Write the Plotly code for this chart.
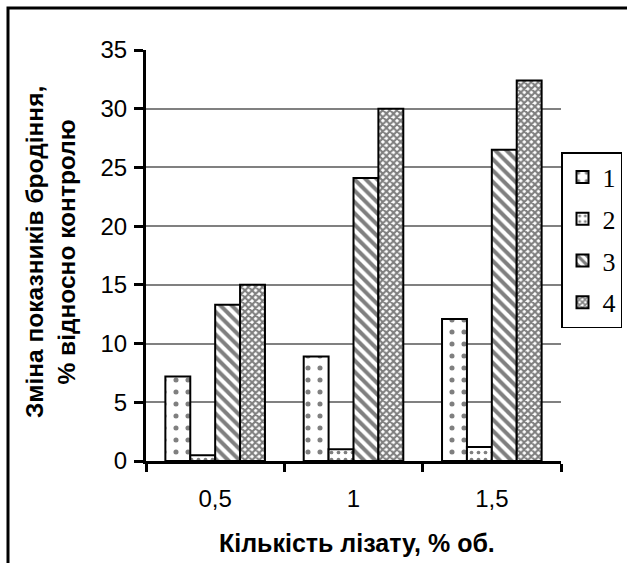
import plotly.graph_objects as go

# Lysate amount (% vol.) on the x axis
categories = ["0,5", "1", "1,5"]

# Change of fermentation indicators, % relative to control
series_names = ["1", "2", "3", "4"]
series_1 = [7.2, 8.9, 12.1]
series_2 = [0.5, 1.0, 1.2]
series_3 = [13.3, 24.1, 26.5]
series_4 = [15.0, 30.0, 32.4]

y_ticks = [0, 5, 10, 15, 20, 25, 30, 35]

W, H = 627, 563
L, R, T, B = 146, 66, 50, 102
PW, PH = W - L - R, H - T - B


def px_x(x):
    return (x - L) / PW


def px_y(y):
    return (H - B - y) / PH


patterns = [
    dict(shape=".", size=12, solidity=0.14, fgcolor="black", bgcolor="white"),
    dict(shape=".", size=7, solidity=0.22, fgcolor="black", bgcolor="white"),
    dict(shape="\\", size=8, solidity=0.5, fgcolor="black", bgcolor="white"),
    dict(shape="x", size=5, solidity=0.65, fgcolor="black", bgcolor="white"),
]

fig = go.Figure()
for i, (name, vals) in enumerate(zip(series_names, [series_1, series_2, series_3, series_4])):
    fig.add_trace(go.Bar(
        x=categories, y=vals, name=name, legendgroup=name,
        marker=dict(color="white", pattern=patterns[i],
                    line=dict(color="black", width=2)),
    ))

fig.update_layout(
    width=W, height=H,
    margin=dict(l=L, r=R, t=T, b=B, autoexpand=False),
    paper_bgcolor="white", plot_bgcolor="white",
    barmode="group", bargap=0.28, bargroupgap=0,
    font=dict(family="Liberation Sans, Arial", size=24, color="black"),
    showlegend=True,
    legend=dict(
        x=px_x(561), y=px_y(152), xanchor="left", yanchor="top",
        bgcolor="white", bordercolor="black", borderwidth=1.5,
        font=dict(family="Liberation Serif, Times New Roman", size=26, color="black"),
        tracegroupgap=5, itemwidth=30,
    ),
    xaxis=dict(
        type="category", showline=True, linecolor="black", linewidth=3,
        ticks="outside", tickson="boundaries", ticklen=8, tickwidth=3, tickcolor="black",
        showgrid=False, zeroline=False, range=[-0.5, 2.5],
        tickfont=dict(size=24), ticklabelstandoff=14,
    ),
    yaxis=dict(
        range=[0, 35], tickvals=y_ticks, showline=True, linecolor="black", linewidth=3,
        ticks="outside", ticklen=9, tickwidth=3, tickcolor="black",
        showgrid=True, gridcolor="#808080", gridwidth=1.5, zeroline=False,
        tickfont=dict(size=24), ticklabelstandoff=2,
    ),
    annotations=[
        dict(text="<b>Зміна показників бродіння,<br>% відносно контролю</b>",
             x=px_x(51), y=px_y(252), xref="paper", yref="paper",
             xanchor="center", yanchor="middle",
             textangle=-90, showarrow=False, font=dict(size=24.5)),
        dict(text="<b>Кількість лізату, % об.</b>",
             x=px_x(357), y=px_y(543), xref="paper", yref="paper",
             xanchor="center", yanchor="middle",
             showarrow=False, font=dict(size=25)),
    ],
    shapes=[
        dict(type="rect", xref="paper", yref="paper",
             x0=px_x(8), x1=px_x(660), y0=px_y(600), y1=px_y(8),
             line=dict(color="black", width=3), layer="below"),
    ],
)

fig.write_html("out.html")
